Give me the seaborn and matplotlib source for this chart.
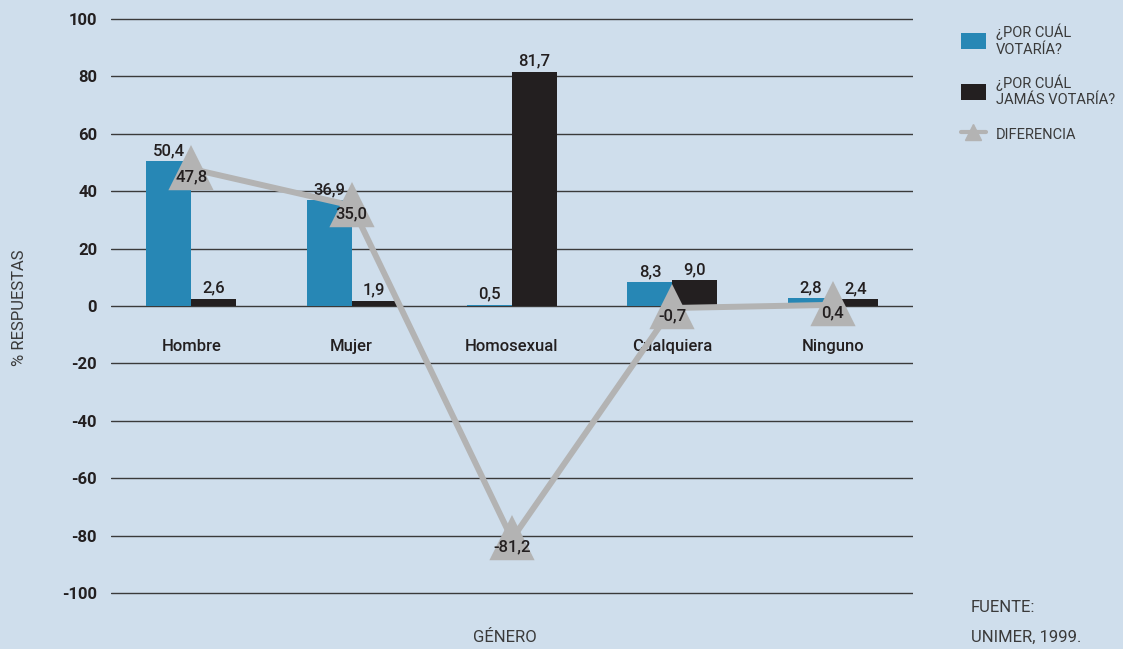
import numpy as np
import pandas as pd
import matplotlib
matplotlib.use("Agg")
import matplotlib.pyplot as plt
import seaborn as sns
from matplotlib.patches import Patch
from matplotlib.lines import Line2D

# datos (UNIMER, 1999)
categorias = ["Hombre", "Mujer", "Homosexual", "Cualquiera", "Ninguno"]
votaria = [50.4, 36.9, 0.5, 8.3, 2.8]
jamas_votaria = [2.6, 1.9, 81.7, 9.0, 2.4]
diferencia = [47.8, 35.0, -81.2, -0.7, 0.4]
series = ["¿POR CUÁL\nVOTARÍA?", "¿POR CUÁL\nJAMÁS VOTARÍA?"]
etiqueta_dif = "DIFERENCIA"
y_ticks = list(range(-100, 101, 20))

FONDO = "#cfdeec"
AZUL = "#2787b5"
NEGRO = "#231f20"
GRIS = "#b3b3b3"
TEXTO = "#231f20"
TEXTO2 = "#3a3a3a"

def fmt(v):
    return f"{v:.1f}".replace(".", ",")

df = pd.DataFrame({
    "genero": categorias * 2,
    "valor": votaria + jamas_votaria,
    "serie": [series[0]] * len(categorias) + [series[1]] * len(categorias),
})

sns.set_theme(style="white")
plt.rcParams["font.family"] = ["Roboto", "DejaVu Sans"]
plt.rcParams["axes.unicode_minus"] = False

fig = plt.figure(figsize=(11.23, 6.49), dpi=100, facecolor=FONDO)
# eje de -101 a 101 para que la linea de -100 no se recorte
ppu = 574 / 200
ax = fig.add_axes([111 / 1123, 1 - (593 + ppu) / 649, 802 / 1123, (574 + 2 * ppu) / 649])
ax.set_facecolor(FONDO)

sns.barplot(data=df, x="genero", y="valor", hue="serie", order=categorias,
            hue_order=series, palette=[AZUL, NEGRO], width=0.56,
            saturation=1, legend=False, linewidth=0, ax=ax, zorder=2)

for cont, vals in zip(ax.containers, [votaria, jamas_votaria]):
    ax.bar_label(cont, labels=[fmt(v) for v in vals], padding=2,
                 fontsize=12, color=TEXTO, fontweight="medium")

sns.pointplot(x=categorias, y=diferencia, order=categorias, color=GRIS,
              markers="^", markersize=27, linewidth=4.3, ax=ax, zorder=3)

for i, v in enumerate(diferencia):
    ax.annotate(fmt(v), (i, v), xytext=(0, -6), textcoords="offset points",
                ha="center", va="center", fontsize=12, color=TEXTO,
                fontweight="medium", zorder=4)

ax.set_xlim(-0.5, len(categorias) - 0.5)
ax.set_ylim(-101, 101)
ax.set_yticks(y_ticks)
ax.set_yticklabels([str(t) for t in y_ticks], fontsize=12, fontweight="bold",
                   color=TEXTO)
ax.yaxis.grid(True, color="#3a3a3a", linewidth=1)
ax.set_axisbelow(True)
for s in ax.spines.values():
    s.set_visible(False)
ax.spines["bottom"].set_position(("data", 0))
ax.tick_params(axis="x", length=0, pad=24, labelsize=12, colors=TEXTO)
ax.tick_params(axis="y", length=0, pad=10)
for lab in ax.get_xticklabels():
    lab.set_fontweight("medium")
ax.set_xlabel("")
ax.set_ylabel("")

fig.text(20 / 1123, 1 - 308 / 649, "% RESPUESTAS", rotation=90, ha="center",
         va="center", fontsize=12, color=TEXTO2)
fig.text(505 / 1123, 1 - 637 / 649, "GÉNERO", ha="center", va="center",
         fontsize=12, color=TEXTO2)
fig.text(971 / 1123, 1 - 608 / 649, "FUENTE:", ha="left", va="center",
         fontsize=12, color=TEXTO2)
fig.text(971 / 1123, 1 - 637 / 649, "UNIMER, 1999.", ha="left", va="center",
         fontsize=12, color=TEXTO2)

handles = [
    Patch(facecolor=AZUL, edgecolor="none"),
    Patch(facecolor=NEGRO, edgecolor="none"),
    Line2D([0], [0], color=GRIS, linewidth=3, marker="^", markersize=11),
]
fig.legend(handles, series + [etiqueta_dif], loc="upper left",
           bbox_to_anchor=(955 / 1123, 1 - 18 / 649), frameon=False,
           fontsize=10.5, labelcolor=TEXTO2, handlelength=1.7,
           handleheight=1.3, labelspacing=1.25, borderaxespad=0,
           handletextpad=0.7)

fig.savefig("out.png", dpi=100, facecolor=FONDO)
